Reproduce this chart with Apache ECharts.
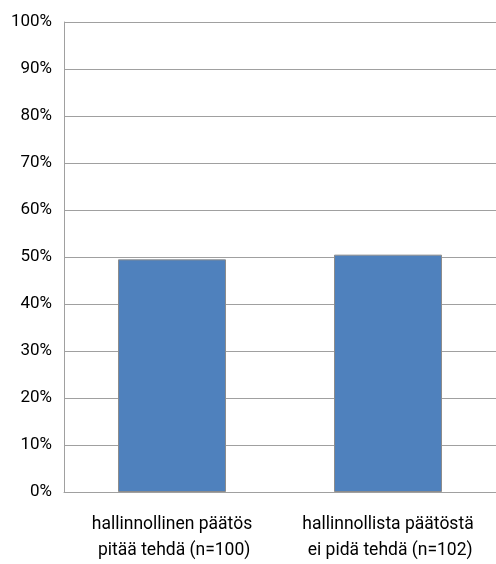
<!DOCTYPE html>
<html>
<head>
<meta charset="utf-8">
<script src="https://cdn.jsdelivr.net/npm/echarts@6/dist/echarts.min.js"></script>
<style>
html,body{margin:0;padding:0;background:#fff;}
#chart{width:496px;height:564px;}
</style>
</head>
<body>
<div id="chart"></div>
<script>
// Share of respondents per answer group (percent)
const categories = ['hallinnollinen päätös\n pitää tehdä (n=100)', 'hallinnollista päätöstä\n ei pidä tehdä (n=102)'];
const shares = [49.5, 50.5];
const yTicks = [0, 10, 20, 30, 40, 50, 60, 70, 80, 90, 100];

const font = 'Roboto, sans-serif';
const chart = echarts.init(document.getElementById('chart'));
chart.setOption({
  animation: false,
  grid: { left: 64, right: 0, top: 22, bottom: 68, containLabel: false },
  xAxis: {
    type: 'category',
    data: categories,
    axisLine: { show: true, lineStyle: { color: '#a0a0a0', width: 1 } },
    axisTick: { show: false },
    axisLabel: { color: '#000', fontFamily: font, fontSize: 17.5, lineHeight: 26, margin: 20, interval: 0, hideOverlap: false }
  },
  yAxis: {
    type: 'value',
    min: yTicks[0],
    max: yTicks[yTicks.length - 1],
    interval: 10,
    axisLine: { show: true, lineStyle: { color: '#a0a0a0', width: 1 } },
    axisTick: { show: false },
    splitLine: { show: true, lineStyle: { color: '#a0a0a0', width: 1 } },
    axisLabel: { color: '#000', fontFamily: font, fontSize: 17, margin: 12, formatter: v => v + '%' }
  },
  series: [{
    type: 'bar',
    data: shares,
    barWidth: '50%',
    itemStyle: { color: '#4f81bd', borderColor: '#8c8c8c', borderWidth: 1 }
  }]
});
</script>
</body>
</html>
